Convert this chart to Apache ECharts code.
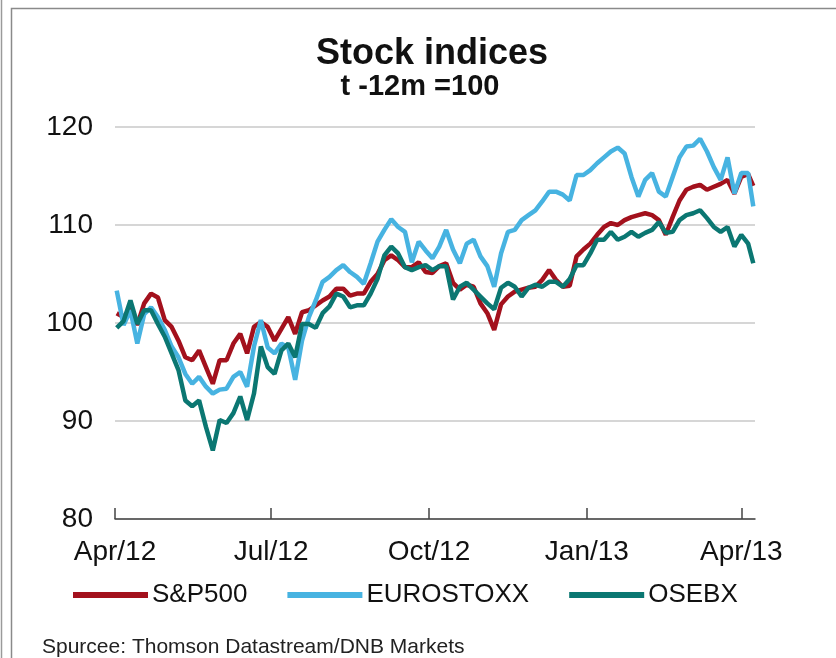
<!DOCTYPE html>
<html>
<head>
<meta charset="utf-8">
<script src="https://cdn.jsdelivr.net/npm/echarts@6/dist/echarts.min.js"></script>
<style>
  html, body { margin: 0; padding: 0; background: #fff; }
  #chart { width: 836px; height: 658px; }
</style>
</head>
<body>
<div id="chart"></div>
<script>
/* 数据 */
const dates = [
  '2012-04-02', '2012-04-06', '2012-04-10', '2012-04-14', '2012-04-18', '2012-04-22', '2012-04-26', '2012-04-30',
  '2012-05-04', '2012-05-08', '2012-05-12', '2012-05-16', '2012-05-20', '2012-05-24', '2012-05-28',
  '2012-06-01', '2012-06-05', '2012-06-09', '2012-06-13', '2012-06-17', '2012-06-21', '2012-06-25', '2012-06-29',
  '2012-07-03', '2012-07-07', '2012-07-11', '2012-07-15', '2012-07-19', '2012-07-23', '2012-07-27', '2012-07-31',
  '2012-08-04', '2012-08-08', '2012-08-12', '2012-08-16', '2012-08-20', '2012-08-24', '2012-08-28',
  '2012-09-01', '2012-09-05', '2012-09-09', '2012-09-13', '2012-09-17', '2012-09-21', '2012-09-25', '2012-09-29',
  '2012-10-03', '2012-10-07', '2012-10-11', '2012-10-15', '2012-10-19', '2012-10-23', '2012-10-27', '2012-10-31',
  '2012-11-04', '2012-11-08', '2012-11-12', '2012-11-16', '2012-11-20', '2012-11-24', '2012-11-28',
  '2012-12-02', '2012-12-06', '2012-12-10', '2012-12-14', '2012-12-18', '2012-12-22', '2012-12-26', '2012-12-30',
  '2013-01-03', '2013-01-07', '2013-01-11', '2013-01-15', '2013-01-19', '2013-01-23', '2013-01-27', '2013-01-31',
  '2013-02-04', '2013-02-08', '2013-02-12', '2013-02-16', '2013-02-20', '2013-02-24', '2013-02-28',
  '2013-03-04', '2013-03-08', '2013-03-12', '2013-03-16', '2013-03-20', '2013-03-24', '2013-03-28',
  '2013-04-01', '2013-04-05', '2013-04-08'
];

const sp500 = [
  101.0, 100.6, 101.5, 99.8, 102.0, 103.0, 102.6, 100.3,
  99.6, 98.2, 96.5, 96.2, 97.2, 95.5, 93.8,
  96.2, 96.2, 97.9, 98.9, 96.9, 99.6, 100.1, 99.6,
  98.2, 99.4, 100.6, 98.9, 101.1, 101.3, 101.8, 102.3,
  102.7, 103.5, 103.5, 102.8, 103.0, 103.0, 104.2,
  105.0, 106.4, 106.9, 106.4, 105.7, 105.7, 106.2, 105.2,
  105.1, 105.8, 106.1, 104.1, 103.4, 103.9, 103.7, 102.0,
  101.0, 99.3, 101.9, 102.7, 103.2, 103.4, 103.6,
  103.7, 104.4, 105.4, 104.4, 103.7, 103.8, 106.8, 107.5,
  108.1, 109.0, 109.8, 110.2, 110.0, 110.5, 110.8, 111.0,
  111.2, 111.0, 110.5, 109.0, 110.8, 112.5, 113.6,
  113.9, 114.1, 113.6, 113.9, 114.2, 114.6, 113.2,
  114.9, 115.2, 114.0
];

const eurostoxx = [
  103.3, 99.8, 101.3, 97.9, 100.9, 101.6, 100.6, 99.3,
  97.6, 96.5, 94.8, 93.8, 94.5, 93.5, 92.8,
  93.2, 93.3, 94.5, 95.0, 93.5, 97.6, 100.3, 97.5,
  96.9, 97.9, 97.5, 94.2, 98.2, 100.6, 102.3, 104.2,
  104.7, 105.4, 105.9, 105.2, 104.7, 104.0, 106.1,
  108.3, 109.5, 110.6, 109.8, 109.3, 106.2, 108.3, 107.4,
  106.6, 107.8, 109.5, 107.5, 106.1, 108.1, 108.5, 106.8,
  105.8, 103.7, 107.1, 109.3, 109.5, 110.5, 111.0,
  111.5, 112.4, 113.4, 113.4, 113.1, 112.5, 115.1, 115.1,
  115.6, 116.3, 116.9, 117.5, 117.9, 117.3, 114.9, 112.9,
  114.6, 115.3, 113.4, 112.9, 114.9, 116.9, 118.0,
  118.1, 118.8, 117.5, 115.9, 114.6, 116.9, 113.2,
  115.3, 115.3, 111.9
];

const osebx = [
  99.5, 100.2, 102.3, 99.9, 101.3, 101.3, 99.9, 98.6,
  96.9, 95.2, 92.1, 91.5, 92.1, 89.4, 87.0,
  90.1, 89.8, 90.8, 92.5, 90.1, 92.8, 97.6, 95.5,
  94.8, 97.2, 97.9, 96.5, 99.9, 99.9, 99.5, 101.0,
  101.7, 103.0, 102.7, 101.6, 101.8, 101.8, 103.0,
  104.5, 106.9, 107.8, 107.1, 105.7, 105.4, 105.7, 105.9,
  105.4, 105.8, 105.8, 102.4, 103.7, 104.1, 103.4, 102.7,
  102.0, 101.4, 103.6, 104.1, 103.7, 102.7, 103.6,
  103.9, 103.7, 104.2, 104.2, 103.7, 104.5, 105.9, 105.9,
  107.1, 108.5, 108.5, 109.3, 108.5, 108.8, 109.3, 108.8,
  109.2, 109.5, 110.3, 109.2, 109.3, 110.5, 111.0,
  111.2, 111.5, 110.7, 109.8, 109.3, 109.8, 107.8,
  109.0, 108.1, 106.1
];

// 刻度
const tickDates = ['2012-04-01', '2012-07-01', '2012-10-01', '2013-01-01', '2013-04-01'];
const tickLabels = ['Apr/12', 'Jul/12', 'Oct/12', 'Jan/13', 'Apr/13'];
const xRange = ['2012-04-01', '2013-04-09'];
const yTicks = [80, 90, 100, 110, 120];

const FONT = "'Liberation Sans', Arial, sans-serif";

// 日期转时间戳，x 轴用数值轴
const toTime = d => +echarts.time.parse(d);
const pair = arr => dates.map((d, i) => [toTime(d), arr[i]]);
const tickTimes = tickDates.map(toTime);

var chart = echarts.init(document.getElementById('chart'), null, { renderer: 'canvas' });

var option = {
    backgroundColor: '#ffffff',
    animation: false,
    title: [{
        text: 'Stock indices',
        left: 427,
        top: 31,
        textAlign: 'center',
        textStyle: { fontFamily: FONT, fontSize: 36, fontWeight: 'bold', color: '#111' }
    }, {
        text: 't -12m =100',
        left: 415,
        top: 67,
        textAlign: 'center',
        textStyle: { fontFamily: FONT, fontSize: 29, fontWeight: 'bold', color: '#111' }
    }],
    legend: {
        data: ['S&P500', 'EUROSTOXX', 'OSEBX'],
        left: 68,
        top: 577,
        icon: 'rect',
        itemWidth: 75,
        itemHeight: 6,
        itemGap: 40,
        textStyle: { fontFamily: FONT, fontSize: 26, color: '#111', padding: [0, 0, 0, -1] }
    },
    grid: {
        left: 115,
        right: 81,
        top: 127,
        bottom: 139
    },
    xAxis: {
        type: 'value',
        min: toTime(xRange[0]),
        max: toTime(xRange[1]),
        axisLine: { onZero: false, lineStyle: { color: '#444', width: 1.5 } },
        axisTick: {
            show: true,
            inside: true,
            length: 11,
            customValues: tickTimes,
            lineStyle: { color: '#444', width: 1.5 }
        },
        axisLabel: {
            customValues: tickTimes,
            margin: 19,
            fontFamily: FONT,
            fontSize: 28,
            color: '#111',
            formatter: function (v) {
                const i = tickTimes.indexOf(+v);
                return i >= 0 ? tickLabels[i] : '';
            }
        },
        splitLine: { show: false }
    },
    yAxis: {
        type: 'value',
        min: yTicks[0],
        max: yTicks[yTicks.length - 1],
        interval: 10,
        axisLine: { show: false },
        axisTick: { show: false },
        axisLabel: {
            margin: 22,
            fontFamily: FONT,
            fontSize: 28,
            color: '#111'
        },
        splitLine: { lineStyle: { color: '#c9c9c9', width: 1.5 } }
    },
    series: [{
        name: 'S&P500',
        type: 'line',
        data: pair(sp500),
        showSymbol: false,
        color: '#a3111d',
        lineStyle: { width: 4.5, color: '#a3111d' }
    }, {
        name: 'EUROSTOXX',
        type: 'line',
        data: pair(eurostoxx),
        showSymbol: false,
        color: '#47b3e1',
        lineStyle: { width: 4.5, color: '#47b3e1' }
    }, {
        name: 'OSEBX',
        type: 'line',
        data: pair(osebx),
        showSymbol: false,
        color: '#0b7772',
        lineStyle: { width: 4.5, color: '#0b7772' }
    }],
    graphic: [{
        // 外框
        type: 'rect',
        shape: { x: 11.5, y: 8.5, width: 840, height: 700 },
        style: { fill: null, stroke: '#8a8a8a', lineWidth: 1.5 },
        silent: true
    }, {
        type: 'line',
        shape: { x1: 1.5, y1: 0, x2: 1.5, y2: 658 },
        style: { stroke: '#9a9a9a', lineWidth: 1.5 },
        silent: true
    }, {
        type: 'text',
        left: 42,
        top: 637,
        style: {
            text: 'Spurcee: Thomson Datastream/DNB Markets',
            font: '21px ' + FONT,
            fill: '#222'
        }
    }]
};

chart.setOption(option);
</script>
</body>
</html>
